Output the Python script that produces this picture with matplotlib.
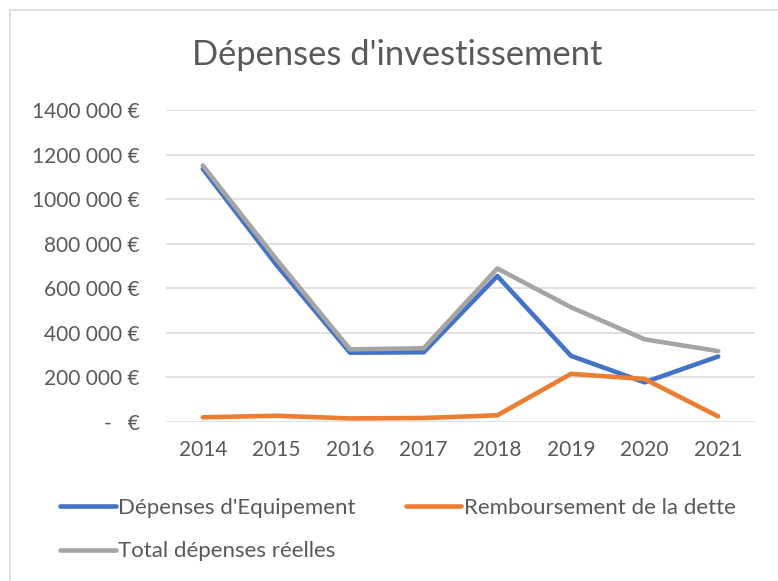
import matplotlib
matplotlib.use("Agg")
import matplotlib.pyplot as plt
from matplotlib.patches import Rectangle

years = ["2014", "2015", "2016", "2017", "2018", "2019", "2020", "2021"]
equipement = [1136000, 705000, 311000, 313000, 655000, 297000, 178000, 294000]
remboursement = [21000, 28000, 16000, 18000, 30000, 216000, 193000, 25000]
total = [1151000, 730000, 326000, 331000, 689000, 515000, 371000, 318000]

ytick_vals = [0, 200000, 400000, 600000, 800000, 1000000, 1200000, 1400000]
ytick_labels = ["-   €", "200 000 €", "400 000 €", "600 000 €", "800 000 €",
                "1000 000 €", "1200 000 €", "1400 000 €"]

plt.rcParams['font.family'] = ['Lato', 'DejaVu Sans']
grey_txt = '#595959'

fig = plt.figure(figsize=(7.78, 5.81), dpi=100)
# chart frame (only left and top edges show)
fig.add_artist(Rectangle((10/778, -0.1), 1.2, 1 - 10/581 + 0.1, transform=fig.transFigure,
                         fill=False, edgecolor='#d9d9d9', linewidth=1.2))

ax = fig.add_axes([166/778, 1 - 422/581, 589/778, 312/581])
x = range(len(years))
l1, = ax.plot(x, equipement, color='#4472c4', lw=3.3, solid_capstyle='round', solid_joinstyle='round')
l2, = ax.plot(x, remboursement, color='#ed7d31', lw=3.3, solid_capstyle='round', solid_joinstyle='round')
l3, = ax.plot(x, total, color='#a5a5a5', lw=3.3, solid_capstyle='round', solid_joinstyle='round')

ax.set_xlim(-0.5, len(years) - 0.5)
ax.set_ylim(0, 1400000)
ax.set_yticks(ytick_vals)
ax.set_yticklabels(ytick_labels)
ax.set_xticks(list(x))
ax.set_xticklabels(years)
ax.grid(axis='y', color='#d9d9d9', lw=1.1)
ax.set_axisbelow(True)
for s in ax.spines.values():
    s.set_visible(False)
ax.tick_params(length=0, labelsize=15, labelcolor=grey_txt)
ax.tick_params(axis='y', pad=19)
ax.tick_params(axis='x', pad=13)

fig.text(397/778, 1 - 55/581, "Dépenses d'investissement", ha='center', va='center',
         fontsize=24.8, color=grey_txt)

fig.legend([l1, l3, l2], ["Dépenses d'Equipement", "Total dépenses réelles",
                          "Remboursement de la dette"],
           ncol=2, loc='upper left', bbox_to_anchor=(40/778, 1 - 478/581),
           frameon=False, fontsize=16, labelcolor=grey_txt,
           handlelength=2.5, handletextpad=0.13, columnspacing=2.25, labelspacing=1.05)

fig.savefig("out.png", dpi=100)
